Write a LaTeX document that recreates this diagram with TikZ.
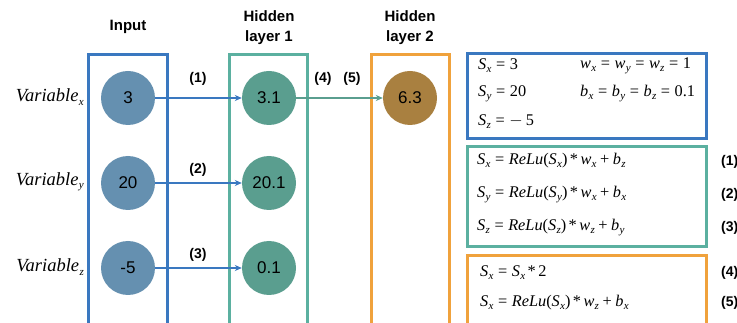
\documentclass[tikz,border=0pt]{standalone}
\usepackage{fontspec}
\setmainfont{Liberation Sans}
\newfontfamily\tms{Liberation Serif}
\usetikzlibrary{arrows.meta}
\definecolor{bluebox}{HTML}{3A78C0}
\definecolor{tealbox}{HTML}{5BB0A0}
\definecolor{orangebox}{HTML}{F0A23C}
\definecolor{inblue}{HTML}{6590B0}
\definecolor{hidteal}{HTML}{5A9E8F}
\definecolor{hidbrown}{HTML}{A98040}
\newcommand\Vs[2]{\textit{#1}\kern0.02em\raisebox{-0.4ex}{\fontsize{11}{11}\selectfont\textit{#2}}}
\newcommand\Eq{\hspace{0.28em}=\hspace{0.28em}}
\newcommand\Pl{\hspace{0.22em}+\hspace{0.22em}}
\newcommand\Ml{\hspace{0.15em}*\hspace{0.15em}}
\begin{document}
\begin{tikzpicture}[x=1pt,y=-1pt,
  layerbox/.style={line width=3pt},
  neuron/.style={circle,minimum size=54pt,inner sep=0pt,font=\fontsize{17}{17}\selectfont},
  title/.style={font=\fontsize{15}{20}\selectfont\bfseries,align=center},
  steplabel/.style={font=\fontsize{14}{14}\selectfont\bfseries},
  eqtext/.style={font=\tms\fontsize{16.3}{16.3}\selectfont,anchor=west,inner sep=0pt},
  varlabel/.style={font=\tms\fontsize{18.5}{18.5}\selectfont,anchor=east,inner sep=0pt},
  conn/.style={line width=1.1pt,-{Stealth[length=7pt,width=6pt]}}
]
\clip (0,0) rectangle (737,323);
\fill[white] (0,0) rectangle (737,323);
% layer boxes
\draw[layerbox,bluebox] (88,55) rectangle (167,340);
\draw[layerbox,tealbox] (229,55) rectangle (307,340);
\draw[layerbox,orangebox] (371,55) rectangle (449,340);
% titles
\node[title] (tin) at (128,27) {Input};
\node[title] (th1) at (269,28) {Hidden\\layer 1};
\node[title] (th2) at (410,28) {Hidden\\layer 2};
% neurons
\node[neuron,fill=inblue] (i1) at (128,98) {3};
\node[neuron,fill=inblue] (i2) at (128,183) {20};
\node[neuron,fill=inblue] (i3) at (128,268) {-5};
\node[neuron,fill=hidteal] (h1) at (269,98) {3.1};
\node[neuron,fill=hidteal] (h2) at (269,183) {20.1};
\node[neuron,fill=hidteal] (h3) at (269,268) {0.1};
\node[neuron,fill=hidbrown] (o1) at (410,98) {6.3};
% variable labels
\node[varlabel] (vx) at (84,97) {\Vs{Variable}{x}};
\node[varlabel] (vy) at (84,182) {\Vs{Variable}{y}};
\node[varlabel] (vz) at (84,267) {\Vs{Variable}{z}};
% connectors
\draw[conn,bluebox] (i1.east) -- (h1.west);
\draw[conn,bluebox] (i2.east) -- (h2.west);
\draw[conn,bluebox] (i3.east) -- (h3.west);
\draw[conn,hidteal] (h1.east) -- (o1.west);
% step labels
\node[steplabel] (s1) at (198,79) {(1)};
\node[steplabel] (s2) at (198,170) {(2)};
\node[steplabel] (s3) at (198,255) {(3)};
\node[steplabel] (s4) at (323,79) {(4)};
\node[steplabel] (s5) at (352,79) {(5)};
% right boxes
\draw[layerbox,bluebox] (467,54) rectangle (706,139);
\draw[layerbox,tealbox] (467,147) rectangle (706,247);
\draw[layerbox,orangebox] (467,256) rectangle (706,340);
% box 1
\node[eqtext] (e1) at (478,66) {\Vs{S}{x}\Eq 3};
\node[eqtext] (e2) at (478,94) {\Vs{S}{y}\Eq 20};
\node[eqtext] (e3) at (478,122) {\Vs{S}{z}\Eq $-$\hspace{0.2em}5};
\node[eqtext] (e4) at (580,66) {\Vs{w}{x}\Eq\Vs{w}{y}\Eq\Vs{w}{z}\Eq 1};
\node[eqtext] (e5) at (580,94) {\Vs{b}{x}\Eq\Vs{b}{y}\Eq\Vs{b}{z}\Eq 0.1};
% box 2
\node[eqtext] (f1) at (477,161) {\Vs{S}{x}\Eq\textit{ReLu}(\Vs{S}{x})\Ml\Vs{w}{x}\Pl\Vs{b}{z}};
\node[eqtext] (f2) at (477,195) {\Vs{S}{y}\Eq\textit{ReLu}(\Vs{S}{y})\Ml\Vs{w}{x}\Pl\Vs{b}{x}};
\node[eqtext] (f3) at (477,228) {\Vs{S}{z}\Eq\textit{ReLu}(\Vs{S}{z})\Ml\Vs{w}{z}\Pl\Vs{b}{y}};
% box 3
\node[eqtext] (g1) at (480,273) {\Vs{S}{x}\Eq\Vs{S}{x}\Ml 2};
\node[eqtext] (g2) at (480,303) {\Vs{S}{x}\Eq\textit{ReLu}(\Vs{S}{x})\Ml\Vs{w}{z}\Pl\Vs{b}{x}};
% equation labels
\node[steplabel,anchor=west,inner sep=0pt] (r1) at (721,162) {(1)};
\node[steplabel,anchor=west,inner sep=0pt] (r2) at (721,195) {(2)};
\node[steplabel,anchor=west,inner sep=0pt] (r3) at (721,228) {(3)};
\node[steplabel,anchor=west,inner sep=0pt] (r4) at (721,273) {(4)};
\node[steplabel,anchor=west,inner sep=0pt] (r5) at (721,303) {(5)};
\end{tikzpicture}
\end{document}
